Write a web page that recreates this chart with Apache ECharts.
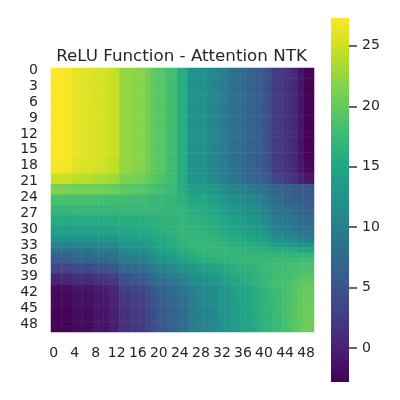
<!DOCTYPE html>
<html>
<head>
<meta charset="utf-8">
<style>
  html, body { margin: 0; padding: 0; background: #fff; }
  #chart { width: 400px; height: 400px; }
</style>
<script src="https://cdn.jsdelivr.net/npm/echarts@6/dist/echarts.min.js"></script>
</head>
<body>
<div id="chart"></div>
<script>
var indexLabels = [];
for (var n = 0; n < 50; n++) indexLabels.push(String(n));

var colorbarTicks = [0, 5, 10, 15, 20, 25];
var colorMin = -2.8;
var colorMax = 27.3;
var viridis = ['#440154', '#482475', '#414487', '#355f8d', '#2a788e', '#21918c', '#22a884', '#44bf70', '#7ad151', '#bddf26', '#fde725'];

// one row per line
var kernelRows = [
  [27.2,27.2,27.1,27,26.2,26.1,26,25.9,25.6,25.5,25.4,24.8,24.6,22.6,22.5,22.2,22,21.8,21,20,19.4,19.2,18.2,18,15.8,15.6,12.6,12.4,12.2,12,11.2,10.8,9.8,9.4,8.4,8.1,7.8,7,6.7,6.1,5.2,4.6,2.6,2.3,1.6,1.3,0.3,-1,-2.5,-2.6],
  [27.2,27.2,27.1,27,26.2,26.1,26,25.9,25.6,25.5,25.4,24.8,24.6,22.6,22.5,22.2,22,21.8,21,20,19.4,19.2,18.2,18,15.8,15.6,12.6,12.4,12.2,12,11.2,10.8,9.8,9.4,8.4,8.1,7.8,7,6.7,6.1,5.2,4.6,2.6,2.3,1.6,1.3,0.3,-1,-2.5,-2.6],
  [27.2,27.2,27.1,27,26.2,26.1,26,25.9,25.6,25.5,25.4,24.8,24.6,22.6,22.5,22.2,22,21.8,21,20,19.4,19.2,18.2,18,15.8,15.6,12.6,12.4,12.2,12,11.2,10.8,9.8,9.4,8.4,8.1,7.8,7,6.7,6.1,5.2,4.6,2.6,2.3,1.6,1.3,0.3,-1,-2.5,-2.6],
  [27.2,27.2,27.1,27,26.2,26.1,26,25.9,25.6,25.5,25.4,24.8,24.6,22.6,22.5,22.2,22,21.8,21,20,19.4,19.2,18.2,18,15.8,15.6,12.6,12.4,12.2,12,11.2,10.8,9.8,9.4,8.4,8.1,7.8,7,6.7,6.1,5.2,4.6,2.6,2.3,1.6,1.3,0.3,-1,-2.5,-2.6],
  [27.2,27.2,27.1,27,26.2,26.1,26,25.9,25.6,25.5,25.4,24.8,24.6,22.6,22.5,22.2,22,21.8,21,20,19.4,19.2,18.2,18,15.8,15.6,12.6,12.4,12.2,12,11.2,10.8,9.8,9.4,8.4,8.1,7.8,7,6.7,6.1,5.2,4.6,2.6,2.3,1.6,1.3,0.3,-1,-2.5,-2.6],
  [27.2,27.2,27.1,27,26.2,26.1,26,25.9,25.6,25.5,25.4,24.8,24.6,22.6,22.5,22.2,22,21.8,21,20,19.4,19.2,18.2,18,15.8,15.6,12.6,12.4,12.2,12,11.2,10.8,9.8,9.4,8.4,8.1,7.8,7,6.7,6.1,5.2,4.6,2.6,2.3,1.6,1.3,0.3,-1,-2.5,-2.6],
  [27.2,27.2,27.1,27,26.2,26.1,26,25.9,25.6,25.5,25.4,24.8,24.6,22.6,22.5,22.2,22,21.8,21,20,19.4,19.2,18.2,18,15.8,15.6,12.6,12.4,12.2,12,11.2,10.8,9.8,9.4,8.4,8.1,7.8,7,6.7,6.1,5.2,4.6,2.6,2.3,1.6,1.3,0.3,-1,-2.5,-2.6],
  [27.2,27.2,27.1,27,26.2,26.1,26,25.9,25.6,25.5,25.4,24.8,24.6,22.6,22.5,22.2,22,21.8,21,20,19.4,19.2,18.2,18,15.8,15.6,12.6,12.4,12.2,12,11.2,10.8,9.8,9.4,8.4,8.1,7.8,7,6.7,6.1,5.2,4.6,2.6,2.3,1.6,1.3,0.3,-1,-2.5,-2.6],
  [27.2,27.2,27.1,27,26.2,26.1,26,25.9,25.6,25.5,25.4,24.8,24.6,22.6,22.5,22.2,22,21.8,21,20,19.4,19.2,18.2,18,15.8,15.6,12.6,12.4,12.2,12,11.2,10.8,9.8,9.4,8.4,8.1,7.8,7,6.7,6.1,5.2,4.6,2.6,2.3,1.6,1.3,0.3,-1,-2.5,-2.6],
  [27.2,27.2,27.1,27,26.2,26.1,26,25.9,25.6,25.5,25.4,24.8,24.6,22.6,22.5,22.2,22,21.8,21,20,19.4,19.2,18.2,18,15.8,15.6,12.6,12.4,12.2,12,11.2,10.8,9.8,9.4,8.4,8.1,7.8,7,6.7,6.1,5.2,4.6,2.6,2.3,1.6,1.3,0.3,-1,-2.5,-2.6],
  [27.2,27.2,27.1,27,26.2,26.1,26,25.9,25.6,25.5,25.4,24.8,24.6,22.6,22.5,22.2,22,21.8,21,20,19.4,19.2,18.2,18,15.8,15.6,12.6,12.4,12.2,12,11.2,10.8,9.8,9.4,8.4,8.1,7.8,7,6.7,6.1,5.2,4.6,2.6,2.3,1.6,1.3,0.3,-1,-2.5,-2.6],
  [27.2,27.2,27.1,27,26.2,26.1,26,25.9,25.6,25.5,25.4,24.8,24.6,22.6,22.5,22.2,22,21.8,21,20,19.4,19.2,18.2,18,15.8,15.6,12.6,12.4,12.2,12,11.2,10.8,9.8,9.4,8.4,8.1,7.8,7,6.7,6.1,5.2,4.6,2.6,2.3,1.6,1.3,0.3,-1,-2.5,-2.6],
  [27.2,27.2,27.1,27,26.2,26.1,26,25.9,25.6,25.5,25.4,24.8,24.6,22.6,22.5,22.2,22,21.8,21,20,19.4,19.2,18.2,18,15.8,15.6,12.6,12.4,12.2,12,11.2,10.8,9.8,9.4,8.4,8.1,7.8,7,6.7,6.1,5.2,4.6,2.6,2.3,1.6,1.3,0.3,-1,-2.5,-2.6],
  [27.2,27.2,27.1,27,26.2,26.1,26,25.9,25.6,25.5,25.4,24.8,24.6,22.6,22.5,22.2,22,21.8,21,20,19.4,19.2,18.2,18,15.8,15.6,12.6,12.4,12.2,12,11.2,10.8,9.8,9.4,8.4,8.1,7.8,7,6.7,6.1,5.2,4.6,2.6,2.3,1.6,1.3,0.3,-1,-2.5,-2.6],
  [27.2,27.2,27.1,27,26.2,26.1,26,25.9,25.6,25.5,25.4,24.8,24.6,22.6,22.5,22.2,22,21.8,21,20,19.4,19.2,18.2,18,15.8,15.6,12.6,12.4,12.2,12,11.2,10.8,9.8,9.4,8.4,8.1,7.8,7,6.7,6.1,5.2,4.6,2.6,2.3,1.6,1.3,0.3,-1,-2.5,-2.6],
  [27.2,27.2,27.1,27,26.2,26.1,26,25.9,25.6,25.5,25.4,24.8,24.6,22.6,22.5,22.2,22,21.8,21,20,19.4,19.2,18.2,18,15.8,15.6,12.6,12.4,12.2,12,11.2,10.8,9.8,9.4,8.4,8.1,7.8,7,6.7,6.1,5.2,4.6,2.6,2.3,1.6,1.3,0.3,-1,-2.5,-2.6],
  [27.2,27.2,27.1,27,26.2,26.1,26,25.9,25.6,25.5,25.4,24.8,24.6,22.6,22.5,22.2,22,21.8,21,20,19.4,19.2,18.2,18,15.8,15.6,12.6,12.4,12.2,12,11.2,10.8,9.8,9.4,8.4,8.1,7.8,7,6.7,6.1,5.2,4.6,2.6,2.3,1.6,1.3,0.3,-1,-2.5,-2.6],
  [27,27,26.9,26.8,26,25.9,25.8,25.7,25.4,25.3,25.2,24.6,24.4,22.5,22.4,22.1,21.9,21.7,20.9,20,19.4,19.2,18.2,18,15.8,15.6,12.6,12.4,12.2,12,11.2,10.8,9.8,9.4,8.4,8.1,7.8,7,6.7,6.1,5.2,4.6,2.6,2.3,1.6,1.3,0.4,-0.9,-2.3,-2.4],
  [27,27,26.9,26.8,26,25.9,25.8,25.7,25.4,25.3,25.2,24.6,24.4,22.5,22.4,22.1,21.9,21.7,20.9,20,19.4,19.2,18.2,18,15.8,15.6,12.6,12.4,12.2,12,11.2,10.8,9.8,9.4,8.4,8.1,7.8,7,6.7,6.1,5.2,4.6,2.6,2.3,1.6,1.3,0.4,-0.9,-2.2,-2.2],
  [26.8,26.8,26.7,26.6,25.8,25.7,25.6,25.5,25.2,25.1,25,24.4,24.2,22.4,22.3,22,21.8,21.6,20.8,20,19.4,19.2,18.2,18,15.8,15.6,12.7,12.5,12.3,12.1,11.3,10.9,9.9,9.5,8.5,8.2,7.9,7.1,6.8,6.2,5.3,4.7,2.7,2.4,1.7,1.4,0.5,-0.8,-2,-2],
  [25,25,24.9,24.8,24.3,24.2,24.1,24,23.6,23.5,23.4,23,22.8,21.5,21.4,21.2,21,20.8,20.2,19.6,19,18.8,18,17.8,15.8,15.6,13,12.8,12.6,12.4,11.7,11.3,10.2,9.8,9,8.7,8.4,7.6,7.3,6.8,5.9,5.3,3.6,3.3,2.6,2.3,1.4,0.2,-0.8,-0.9],
  [24.9,24.9,24.8,24.7,24.2,24.1,24,23.9,23.5,23.4,23.3,22.9,22.7,21.4,21.3,21.1,20.9,20.7,20.1,19.5,19,18.8,18,17.8,15.8,15.6,13,12.8,12.6,12.4,11.7,11.3,10.2,9.8,9,8.7,8.4,7.6,7.3,6.8,5.9,5.3,3.6,3.3,2.6,2.3,1.4,0.2,-0.8,-0.9],
  [21,21,21,20.9,20.7,20.7,20.6,20.6,20.4,20.4,20.3,20.1,20,19.5,19.4,19.3,19.2,19.1,18.8,18.3,18,17.9,17.4,17.2,15.8,15.6,14.2,14,13.8,13.6,13.1,12.7,11.8,11.4,10.9,10.6,10.2,9.8,9.5,9.1,8.5,8,7,6.8,6.4,6.2,5.8,5.6,5.4,5.3],
  [21.6,21.6,21.5,21.5,21.2,21.2,21.1,21.1,20.9,20.8,20.7,20.5,20.4,19.8,19.7,19.6,19.5,19.4,19,18.6,18.2,18.1,17.6,17.4,16,15.8,14.3,14.1,13.9,13.7,13.1,12.7,11.8,11.4,10.8,10.5,10.1,9.7,9.4,9,8.2,7.8,6.8,6.5,6.2,6,5.6,5.4,5.2,5.1],
  [18.6,18.6,18.6,18.5,18.5,18.4,18.4,18.4,18.3,18.3,18.2,18.2,18.1,18,17.9,17.8,17.8,17.7,17.6,17.4,17.2,17.1,16.9,16.8,16.5,16.3,15.3,15.1,14.9,14.7,14.3,14,13.2,12.8,12.3,12,11.6,11.2,10.9,10.5,9.4,9,7.8,7.5,7.1,6.9,6.4,6.2,5.9,5.8],
  [18.4,18.4,18.4,18.4,18.3,18.3,18.3,18.3,18.2,18.2,18.2,18,18,17.9,17.9,17.7,17.7,17.7,17.6,17.4,17.2,17.2,16.9,16.9,16.5,16.4,15.2,15,14.8,14.6,14.2,13.9,13.1,12.7,12.2,11.9,11.5,11.1,10.8,10.4,9.3,8.9,7.8,7.5,7.2,7,6.6,6.2,5.8,5.8],
  [17,17,17,17,17,17,17,17,17.1,17.1,17.1,17.1,17.1,17.2,17.2,17.2,17.2,17.2,17.2,17.1,17,17,16.9,16.9,16.8,16.8,16,15.8,15.6,15.5,15.2,14.9,14,13.7,13.2,12.9,12.5,12.1,11.8,11.4,10.4,9.9,8.6,8.3,8,7.8,7.4,6.9,6.3,6.3],
  [16.8,16.8,16.8,16.8,16.9,16.9,16.9,16.9,17,17,17,17,17,17.1,17.1,17.1,17.1,17.1,17.1,17,16.9,16.9,16.8,16.8,16.8,16.8,16.1,16,15.8,15.7,15.4,15.1,14.2,13.9,13.4,13.1,12.7,12.3,12,11.6,10.6,10.1,8.8,8.5,8.2,8,7.6,7.1,6.5,6.5],
  [15.6,15.6,15.6,15.6,15.7,15.7,15.7,15.7,15.8,15.8,15.8,15.9,15.9,16,16,16.1,16.1,16.1,16.2,16.3,16.5,16.5,16.6,16.6,16.8,16.8,16.4,16.3,16.2,16.1,15.8,15.6,15,14.7,14.2,13.9,13.5,13.1,12.8,12.4,11.4,10.9,9.8,9.5,9.2,9,8.6,8.2,7.8,7.8],
  [15.4,15.4,15.4,15.4,15.5,15.5,15.5,15.5,15.6,15.6,15.6,15.7,15.7,15.8,15.8,15.9,15.9,15.9,16,16.2,16.4,16.4,16.6,16.6,16.8,16.8,16.5,16.4,16.3,16.2,15.9,15.7,15.2,14.9,14.4,14.1,13.7,13.3,13,12.6,11.6,11.1,10,9.7,9.4,9.2,8.8,8.4,8,8],
  [14,14,14,14,14.2,14.2,14.2,14.2,14.4,14.4,14.4,14.6,14.6,15,15,15.2,15.2,15.2,15.4,15.7,16.1,16.1,16.5,16.5,16.9,16.9,16.8,16.7,16.6,16.5,16.3,16.1,15.6,15.3,14.9,14.6,14.2,13.8,13.5,13.1,12.2,11.8,10.4,10.1,9.8,9.6,9.2,8.8,8.4,8.4],
  [13.8,13.8,13.8,13.8,14,14,14,14,14.2,14.2,14.2,14.4,14.4,14.8,14.8,15,15,15,15.3,15.6,16,16,16.4,16.4,16.9,16.9,16.9,16.8,16.7,16.6,16.5,16.3,15.8,15.5,15.2,14.9,14.6,14.2,13.9,13.6,12.8,12.4,11.2,10.9,10.6,10.4,9.8,9.4,9,9],
  [12.2,12.2,12.2,12.2,12.4,12.4,12.4,12.4,12.7,12.7,12.7,13,13,13.5,13.5,13.8,13.8,13.8,14.2,14.7,15.3,15.3,15.9,15.9,16.8,16.8,16.9,16.9,16.9,16.9,16.8,16.7,16.5,16.3,16,15.8,15.6,15.3,15.1,14.9,14.2,13.8,12.6,12.4,12.1,11.9,11.4,11,10.5,10.5],
  [10.6,10.6,10.6,10.6,10.9,10.9,10.9,10.9,11.3,11.3,11.3,11.8,11.8,12.8,12.8,13.2,13.2,13.2,13.8,14.3,14.9,14.9,15.7,15.7,16.6,16.6,16.9,16.9,16.9,16.9,16.9,16.9,16.8,16.7,16.5,16.3,16.1,15.9,15.7,15.5,15.2,14.9,14.2,14,13.7,13.5,13.2,12.8,12.2,12.2],
  [8.6,8.6,8.6,8.6,9,9,9,9,9.6,9.6,9.6,10.2,10.2,11.5,11.5,12,12,12,12.8,13.4,14.2,14.2,15,15,16,16,16.6,16.7,16.8,16.9,17,17,17,17,16.9,16.8,16.7,16.6,16.5,16.4,16.2,16,15.9,15.8,15.7,15.6,15.4,15.2,15,15],
  [7,7,7,7,7.5,7.5,7.5,7.5,8.2,8.2,8.2,8.8,8.8,10.2,10.2,10.8,10.8,10.8,11.8,12.4,13.2,13.2,14,14,15.2,15.2,16,16.1,16.4,16.6,16.8,16.9,17,17,17,17,17,17,17,17,17,17,17,17,17,17,17,17,17,17],
  [6,6,6,6,6.5,6.5,6.5,6.5,7.2,7.2,7.2,8,8,9.4,9.4,10,10,10,11,11.6,12.4,12.4,13.4,13.4,14.4,14.4,15.4,15.5,15.8,16.1,16.4,16.5,16.7,16.8,16.9,17,17,17,17.1,17.1,17.2,17.3,17.6,17.6,17.7,17.7,17.8,18,18,18],
  [3.4,3.4,3.4,3.4,4,4,4,4,4.8,4.8,4.8,5.6,5.6,7.2,7.2,8,8,8,9,9.8,10.6,10.6,11.4,11.4,12.4,12.4,13.4,13.6,13.9,14.2,14.6,14.9,15.3,15.6,15.9,16.2,16.4,16.6,16.8,17,17.2,17.4,17.7,17.8,17.9,18,18.2,18.4,18.6,18.6],
  [3,3,3,3,3.6,3.6,3.6,3.6,4.4,4.4,4.4,5.2,5.2,6.8,6.8,7.6,7.6,7.6,8.6,9.4,10.2,10.2,11,11,12,12,13,13.2,13.6,13.9,14.3,14.6,15,15.3,15.7,16,16.3,16.5,16.7,16.9,17.2,17.4,17.8,17.9,18,18.1,18.3,18.6,18.8,18.8],
  [0.6,0.6,0.6,0.6,1.2,1.2,1.2,1.2,2,2,2,3,3,5,5,5.8,5.8,5.8,7,7.8,8.6,8.6,9.6,9.6,10.5,10.5,11.8,12.1,12.5,12.9,13.3,13.6,14.1,14.5,15,15.4,15.8,16.1,16.4,16.7,17.1,17.4,18,18.1,18.3,18.4,18.7,19,19.2,19.2],
  [0.2,0.2,0.2,0.2,0.8,0.8,0.8,0.8,1.6,1.6,1.6,2.6,2.6,4.6,4.6,5.4,5.4,5.4,6.6,7.4,8.2,8.2,9.2,9.2,10,10,11.4,11.7,12.1,12.5,12.9,13.2,13.8,14.2,14.8,15.2,15.6,16,16.3,16.6,17.1,17.5,18.1,18.3,18.5,18.6,19,19.3,19.6,19.6],
  [-1.6,-1.6,-1.6,-1.6,-1,-1,-1,-1,-0.2,-0.2,-0.2,0.8,0.8,3,3,3.8,3.8,3.8,5,5.8,6.8,6.8,7.8,7.8,9,9,10.6,10.9,11.3,11.7,12.1,12.5,13.1,13.5,14.1,14.5,15,15.4,15.8,16.2,16.7,17.1,17.8,18,18.4,18.6,19.2,19.6,20,20],
  [-2,-2,-2,-2,-1.4,-1.4,-1.4,-1.4,-0.6,-0.6,-0.6,0.4,0.4,2.4,2.4,3.2,3.2,3.2,4.4,5.2,6.2,6.2,7.4,7.4,8.6,8.6,10.2,10.5,10.9,11.3,11.7,12.1,12.8,13.2,13.8,14.3,14.8,15.2,15.7,16.1,16.6,17,17.6,17.9,18.5,18.7,19.4,19.8,20.2,20.2],
  [-2.2,-2.2,-2.2,-2.2,-1.6,-1.6,-1.6,-1.6,-0.8,-0.8,-0.8,0.2,0.2,2,2,2.8,2.8,2.8,4,4.8,6,6,7.2,7.2,8.2,8.2,10,10.3,10.7,11.1,11.5,11.9,12.6,13,13.6,14.1,14.6,15,15.6,16,16.5,16.9,17.5,17.8,18.5,18.7,19.5,19.9,20.3,20.3],
  [-2.4,-2.4,-2.4,-2.4,-1.7,-1.7,-1.7,-1.7,-0.9,-0.9,-0.9,0.1,0.1,1.8,1.8,2.6,2.6,2.6,3.8,4.6,5.8,5.8,7,7,8,8,9.8,10.1,10.5,10.9,11.3,11.7,12.5,12.9,13.5,14,14.5,14.9,15.5,15.9,16.4,16.8,17.4,17.7,18.4,18.7,19.5,20,20.3,20.3],
  [-2.5,-2.5,-2.5,-2.5,-1.8,-1.8,-1.8,-1.8,-1,-1,-1,0,0,1.6,1.6,2.5,2.5,2.5,3.6,4.4,5.7,5.7,6.9,6.9,7.9,7.9,9.7,10,10.4,10.8,11.2,11.6,12.5,12.9,13.5,13.9,14.5,14.9,15.5,15.9,16.4,16.8,17.4,17.7,18.4,18.7,19.6,20,20.4,20.4],
  [-2.6,-2.6,-2.6,-2.6,-1.9,-1.9,-1.9,-1.9,-1.1,-1.1,-1.1,-0.1,-0.1,1.4,1.4,2.4,2.4,2.4,3.5,4.3,5.6,5.6,6.8,6.8,7.8,7.8,9.7,9.9,10.3,10.6,11.1,11.5,12.4,12.8,13.4,13.8,14.4,14.8,15.4,15.8,16.4,16.8,17.3,17.6,18.4,18.7,19.6,20,20.4,20.4],
  [-2.6,-2.6,-2.6,-2.6,-2,-2,-2,-2,-1.1,-1.1,-1.1,-0.2,-0.2,1.3,1.3,2.3,2.3,2.3,3.4,4.2,5.5,5.5,6.7,6.7,7.7,7.7,9.6,9.8,10.2,10.5,11,11.4,12.4,12.8,13.4,13.8,14.4,14.8,15.4,15.8,16.4,16.8,17.3,17.6,18.4,18.7,19.6,20,20.5,20.5],
  [-2.6,-2.6,-2.6,-2.6,-2,-2,-2,-2,-1.1,-1.1,-1.1,-0.2,-0.2,1.2,1.2,2.3,2.3,2.3,3.4,4.2,5.5,5.5,6.7,6.7,7.6,7.6,9.6,9.8,10.2,10.5,11,11.4,12.4,12.8,13.4,13.8,14.4,14.8,15.4,15.8,16.4,16.8,17.3,17.6,18.4,18.7,19.6,20,20.5,20.5],
  [-2.5,-2.5,-2.5,-2.5,-2,-2,-2,-2,-1.1,-1.1,-1.1,-0.2,-0.2,1.2,1.2,2.2,2.2,2.2,3.4,4.2,5.4,5.4,6.6,6.6,7.5,7.5,9.6,9.8,10.2,10.5,11,11.4,12.4,12.8,13.4,13.8,14.4,14.8,15.4,15.8,16.4,16.8,17.3,17.6,18.4,18.7,19.6,20,20.5,20.5]
];

var cells = [];
kernelRows.forEach(function (row, r) {
  row.forEach(function (value, c) {
    cells.push([c, r, value]);
  });
});

var textColor = '#262626';
var fontName = 'DejaVu Sans';

// matplotlib style colour bar, bottom of the gradient is the first colour
var barStops = viridis.map(function (color, i) {
  return { offset: 1 - i / (viridis.length - 1), color: color };
});

function renderColorbar(params, api) {
  var p0 = api.coord([api.value(0), api.value(1)]);
  var p1 = api.coord([api.value(2), api.value(3)]);
  return {
    type: 'rect',
    shape: { x: p0[0], y: p1[1], width: p1[0] - p0[0], height: p0[1] - p1[1] },
    style: { fill: new echarts.graphic.LinearGradient(0, 0, 0, 1, barStops) }
  };
}

var myChart = echarts.init(document.getElementById('chart'), null, { renderer: 'canvas' });
var option = {
  animation: false,
  backgroundColor: '#fff',
  title: {
    text: 'ReLU Function - Attention NTK',
    left: 176.5,
    top: 43,
    textAlign: 'center',
    textStyle: { fontFamily: fontName, fontSize: 16.7, fontWeight: 'normal', color: textColor }
  },
  grid: [
    { left: 51, top: 68, width: 263, height: 264 },
    { left: 331, top: 18, width: 18, height: 364 }
  ],
  xAxis: [
    {
      type: 'category',
      gridIndex: 0,
      data: indexLabels,
      axisLine: { show: false },
      axisTick: { show: false },
      splitLine: { show: false },
      axisLabel: { interval: 3, margin: 14, fontFamily: fontName, fontSize: 14, color: textColor, hideOverlap: false }
    },
    { type: 'value', gridIndex: 1, show: false, min: 0, max: 1 }
  ],
  yAxis: [
    {
      type: 'category',
      gridIndex: 0,
      inverse: true,
      data: indexLabels,
      axisLine: { show: false },
      axisTick: { show: false },
      splitLine: { show: false },
      axisLabel: { interval: 2, margin: 13, padding: [3, 0, 0, 0], fontFamily: fontName, fontSize: 14, color: textColor, hideOverlap: false }
    },
    {
      type: 'value',
      gridIndex: 1,
      position: 'right',
      min: colorMin,
      max: colorMax,
      axisLine: { show: false, onZero: false },
      splitLine: { show: false },
      axisTick: { show: true, length: 8, customValues: colorbarTicks, lineStyle: { color: '#333333', width: 1.5 } },
      axisLabel: { margin: 13, padding: [6, 0, 0, 0], customValues: colorbarTicks, fontFamily: fontName, fontSize: 14, color: textColor }
    }
  ],
  visualMap: {
    type: 'continuous',
    show: false,
    seriesIndex: 0,
    min: colorMin,
    max: colorMax,
    inRange: { color: viridis }
  },
  series: [
    {
      type: 'heatmap',
      xAxisIndex: 0,
      yAxisIndex: 0,
      data: cells,
      progressive: 0,
      emphasis: { disabled: true }
    },
    {
      type: 'custom',
      xAxisIndex: 1,
      yAxisIndex: 1,
      renderItem: renderColorbar,
      encode: { x: [0, 2], y: [1, 3] },
      silent: true,
      data: [[0, colorMin, 1, colorMax]]
    }
  ]
};
myChart.setOption(option);
</script>
</body>
</html>
